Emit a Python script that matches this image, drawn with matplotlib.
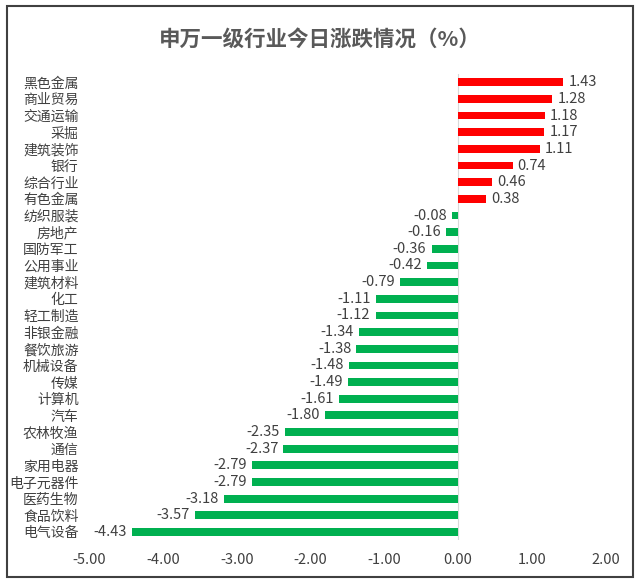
import matplotlib
matplotlib.use("Agg")
import matplotlib.pyplot as plt
from matplotlib.patches import Rectangle

plt.rcParams['font.family'] = ['Noto Sans CJK SC', 'DejaVu Sans']

categories = ["黑色金属", "商业贸易", "交通运输", "采掘", "建筑装饰", "银行", "综合行业", "有色金属",
              "纺织服装", "房地产", "国防军工", "公用事业", "建筑材料", "化工", "轻工制造", "非银金融",
              "餐饮旅游", "机械设备", "传媒", "计算机", "汽车", "农林牧渔", "通信", "家用电器",
              "电子元器件", "医药生物", "食品饮料", "电气设备"]
values = [1.43, 1.28, 1.18, 1.17, 1.11, 0.74, 0.46, 0.38,
          -0.08, -0.16, -0.36, -0.42, -0.79, -1.11, -1.12, -1.34,
          -1.38, -1.48, -1.49, -1.61, -1.80, -2.35, -2.37, -2.79,
          -2.79, -3.18, -3.57, -4.43]
xticks = [-5, -4, -3, -2, -1, 0, 1, 2]

fig = plt.figure(figsize=(6.4, 5.82), dpi=100)
ax = fig.add_axes([0.140, 0.0716, 0.806, 0.8014])

n = len(categories)
ypos = list(range(n))
colors = ['#FF0000' if v >= 0 else '#00B050' for v in values]
ax.barh(ypos, values, height=0.47, color=colors)
ax.set_ylim(n - 0.5, -0.5)
ax.set_xlim(-5, 2)
ax.set_yticks(ypos)
ax.set_yticklabels(categories, fontsize=10, color='#404040')
ax.tick_params(axis='both', length=0)
ax.tick_params(axis='y', pad=8)
ax.set_xticks(xticks)
ax.set_xticklabels([f"{t:.2f}" for t in xticks], fontsize=10.5, color='#404040')
ax.tick_params(axis='x', pad=9)
for s in ax.spines.values():
    s.set_visible(False)
ax.axvline(0, color='#D9D9D9', lw=0.8, zorder=0)

for y, v in zip(ypos, values):
    if v >= 0:
        ax.text(v + 0.07, y, f"{v:.2f}", va='center', ha='left', fontsize=10.5, color='#404040')
    else:
        ax.text(v - 0.07, y, f"{v:.2f}", va='center', ha='right', fontsize=10.5, color='#404040')

fig.text(0.5, 0.933, "申万一级行业今日涨跌情况（%）", ha='center', va='center',
         fontsize=15.5, fontweight='bold', color='#595959')

fig.patches.append(Rectangle((0.011, 0.009), 0.978, 0.98, transform=fig.transFigure,
                             fill=False, edgecolor='#404040', lw=1.5))

fig.savefig("out.png", dpi=100)
